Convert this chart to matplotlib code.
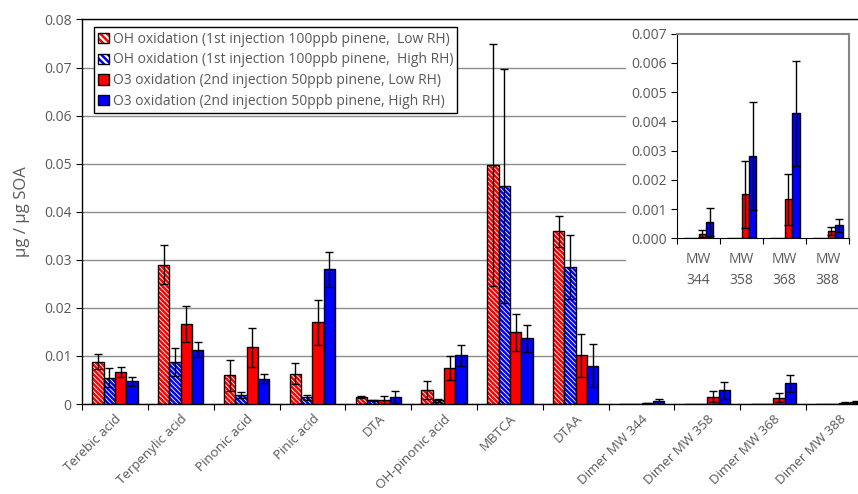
import matplotlib
matplotlib.use("Agg")
import matplotlib.pyplot as plt
from matplotlib.patches import Patch, Rectangle
from matplotlib.legend_handler import HandlerTuple
import numpy as np

plt.rcParams['font.family'] = ['Open Sans', 'DejaVu Sans']
plt.rcParams['hatch.linewidth'] = 1.8

categories = ['Terebic acid', 'Terpenylic acid', 'Pinonic acid', 'Pinic acid', 'DTA',
              'OH-pinonic acid', 'MBTCA', 'DTAA', 'Dimer MW 344', 'Dimer MW 358',
              'Dimer MW 368', 'Dimer MW 388']
inset_labels = ['MW\n344', 'MW\n358', 'MW\n368', 'MW\n388']

oh_low = [0.0088, 0.0290, 0.0060, 0.0063, 0.0014, 0.0029, 0.0498, 0.0359, 0.00001, 0.00002, 0.00001, 0.0]
oh_low_err = [0.0015, 0.0040, 0.0032, 0.0022, 0.0002, 0.0018, 0.0252, 0.0032, 0, 0, 0, 0]
oh_high = [0.0055, 0.0088, 0.0019, 0.0014, 0.0008, 0.0008, 0.0453, 0.0285, 0.00001, 0.0, 0.0, 0.0]
oh_high_err = [0.0019, 0.0029, 0.0007, 0.0005, 0.0001, 0.0003, 0.0243, 0.0067, 0, 0, 0, 0]
o3_low = [0.0067, 0.0167, 0.0118, 0.0170, 0.0009, 0.0074, 0.0149, 0.0101, 0.00015, 0.0015, 0.00133, 0.00025]
o3_low_err = [0.0011, 0.0037, 0.0040, 0.0047, 0.0008, 0.0025, 0.0038, 0.0045, 0.00012, 0.00115, 0.00088, 0.00014]
o3_high = [0.0047, 0.0113, 0.0053, 0.0280, 0.0015, 0.0101, 0.0137, 0.0080, 0.00056, 0.00282, 0.00428, 0.00044]
o3_high_err = [0.0010, 0.0015, 0.0009, 0.0036, 0.0012, 0.0022, 0.0028, 0.0044, 0.00047, 0.00186, 0.0018, 0.00023]

series = [
    ('OH oxidation (1st injection 100ppb pinene,  Low RH)', oh_low, oh_low_err, 'red', True),
    ('OH oxidation (1st injection 100ppb pinene,  High RH)', oh_high, oh_high_err, 'blue', True),
    ('O3 oxidation (2nd injection 50ppb pinene, Low RH)', o3_low, o3_low_err, 'red', False),
    ('O3 oxidation (2nd injection 50ppb pinene, High RH)', o3_high, o3_high_err, 'blue', False),
]

grey = '#595959'
width = 0.172
HATCH = '\\' * 7


def draw_bars(ax, idx):
    x = np.arange(len(idx))
    for k, (name, vals, errs, color, hatched) in enumerate(series):
        v = np.array(vals)[idx]
        e = np.array(errs)[idx]
        pos = x + (k - 1.5) * width
        if hatched:
            ax.bar(pos, v, width, facecolor='white', edgecolor=color, hatch=HATCH, lw=0, zorder=2)
            ax.bar(pos, v, width, facecolor='none', edgecolor='black', lw=1, zorder=3)
        else:
            ax.bar(pos, v, width, facecolor=color, edgecolor='black', lw=1, zorder=3)
        m = e > 0
        ax.errorbar(pos[m], v[m], yerr=e[m], fmt='none', ecolor='black', elinewidth=1,
                    capsize=3, capthick=1, zorder=4)
    ax.set_xlim(-0.5, len(idx) - 0.5)
    ax.set_xticks(np.arange(len(idx) + 1) - 0.5)
    ax.set_xticklabels([])
    ax.tick_params(axis='x', which='major', direction='out', length=4, color='black')
    ax.set_xticks(x, minor=True)
    ax.tick_params(axis='x', which='minor', length=0)


fig = plt.figure(figsize=(8.58, 4.94), dpi=100)

# main chart
ax = fig.add_axes([82 / 858, 90 / 494, 790 / 858, 384.5 / 494])
draw_bars(ax, list(range(len(categories))))
ax.set_xticklabels(categories, minor=True, rotation=45, ha='right', va='top',
                   rotation_mode='anchor', color=grey, fontsize=9.6)
ax.tick_params(axis='x', which='minor', pad=6)
ax.set_ylim(0, 0.08)
ax.set_yticks(np.arange(0, 0.081, 0.01))
ax.set_yticklabels(['0'] + ['%.2f' % t for t in np.arange(0.01, 0.081, 0.01)], color=grey, fontsize=10)
ax.tick_params(axis='y', direction='out', length=4, color='black')
ax.yaxis.grid(True, color='#8c8c8c', lw=1, zorder=0)
ax.set_axisbelow(True)
for s in ax.spines.values():
    s.set_color('black')
    s.set_linewidth(1)
ax.set_ylabel('μg / μg SOA', fontsize=12, color=grey, labelpad=10)

handles = []
for name, vals, errs, color, hatched in series:
    if hatched:
        handles.append((Patch(facecolor='white', edgecolor=color, hatch='\\' * 5, lw=0),
                        Patch(facecolor='none', edgecolor='black', lw=1)))
    else:
        handles.append(Patch(facecolor=color, edgecolor='black', lw=1))
leg = ax.legend(handles, [s[0] for s in series], handler_map={tuple: HandlerTuple(ndivide=1, pad=0)},
                loc='upper left', bbox_to_anchor=(12 / 790, 1 - 8 / 384.5), fontsize=10,
                frameon=True, fancybox=False, edgecolor='black', framealpha=1,
                handlelength=0.75, handleheight=0.75, handletextpad=0.3, labelspacing=0.42,
                borderpad=0.3, borderaxespad=0)
leg.get_frame().set_linewidth(1)
for t in leg.get_texts():
    t.set_color(grey)

# white panel behind the inset
fig.add_artist(Rectangle((626 / 858, (494 - 296) / 494), 232 / 858, 274 / 494,
                         transform=fig.transFigure, facecolor='white', edgecolor='none', zorder=0.5))

# inset with the dimers
ins = fig.add_axes([677 / 858, (494 - 238.3) / 494, 172.3 / 858, 204.6 / 494], zorder=1)
draw_bars(ins, [8, 9, 10, 11])
ins.set_xticklabels(inset_labels, minor=True, color=grey, fontsize=10, linespacing=1.5)
ins.tick_params(axis='x', which='minor', pad=10)
ins.set_ylim(0, 0.007)
ins.set_yticks(np.arange(0, 0.0071, 0.001))
ins.set_yticklabels(['%.3f' % t for t in np.arange(0, 0.0071, 0.001)], color=grey, fontsize=10)
ins.tick_params(axis='y', direction='out', length=4, color='black')
ins.spines['left'].set_color('black')
ins.spines['bottom'].set_color('black')
for side in ('top', 'right'):
    ins.spines[side].set_color('#868686')
    ins.spines[side].set_linewidth(1.5)

fig.savefig('out.png', dpi=100)
